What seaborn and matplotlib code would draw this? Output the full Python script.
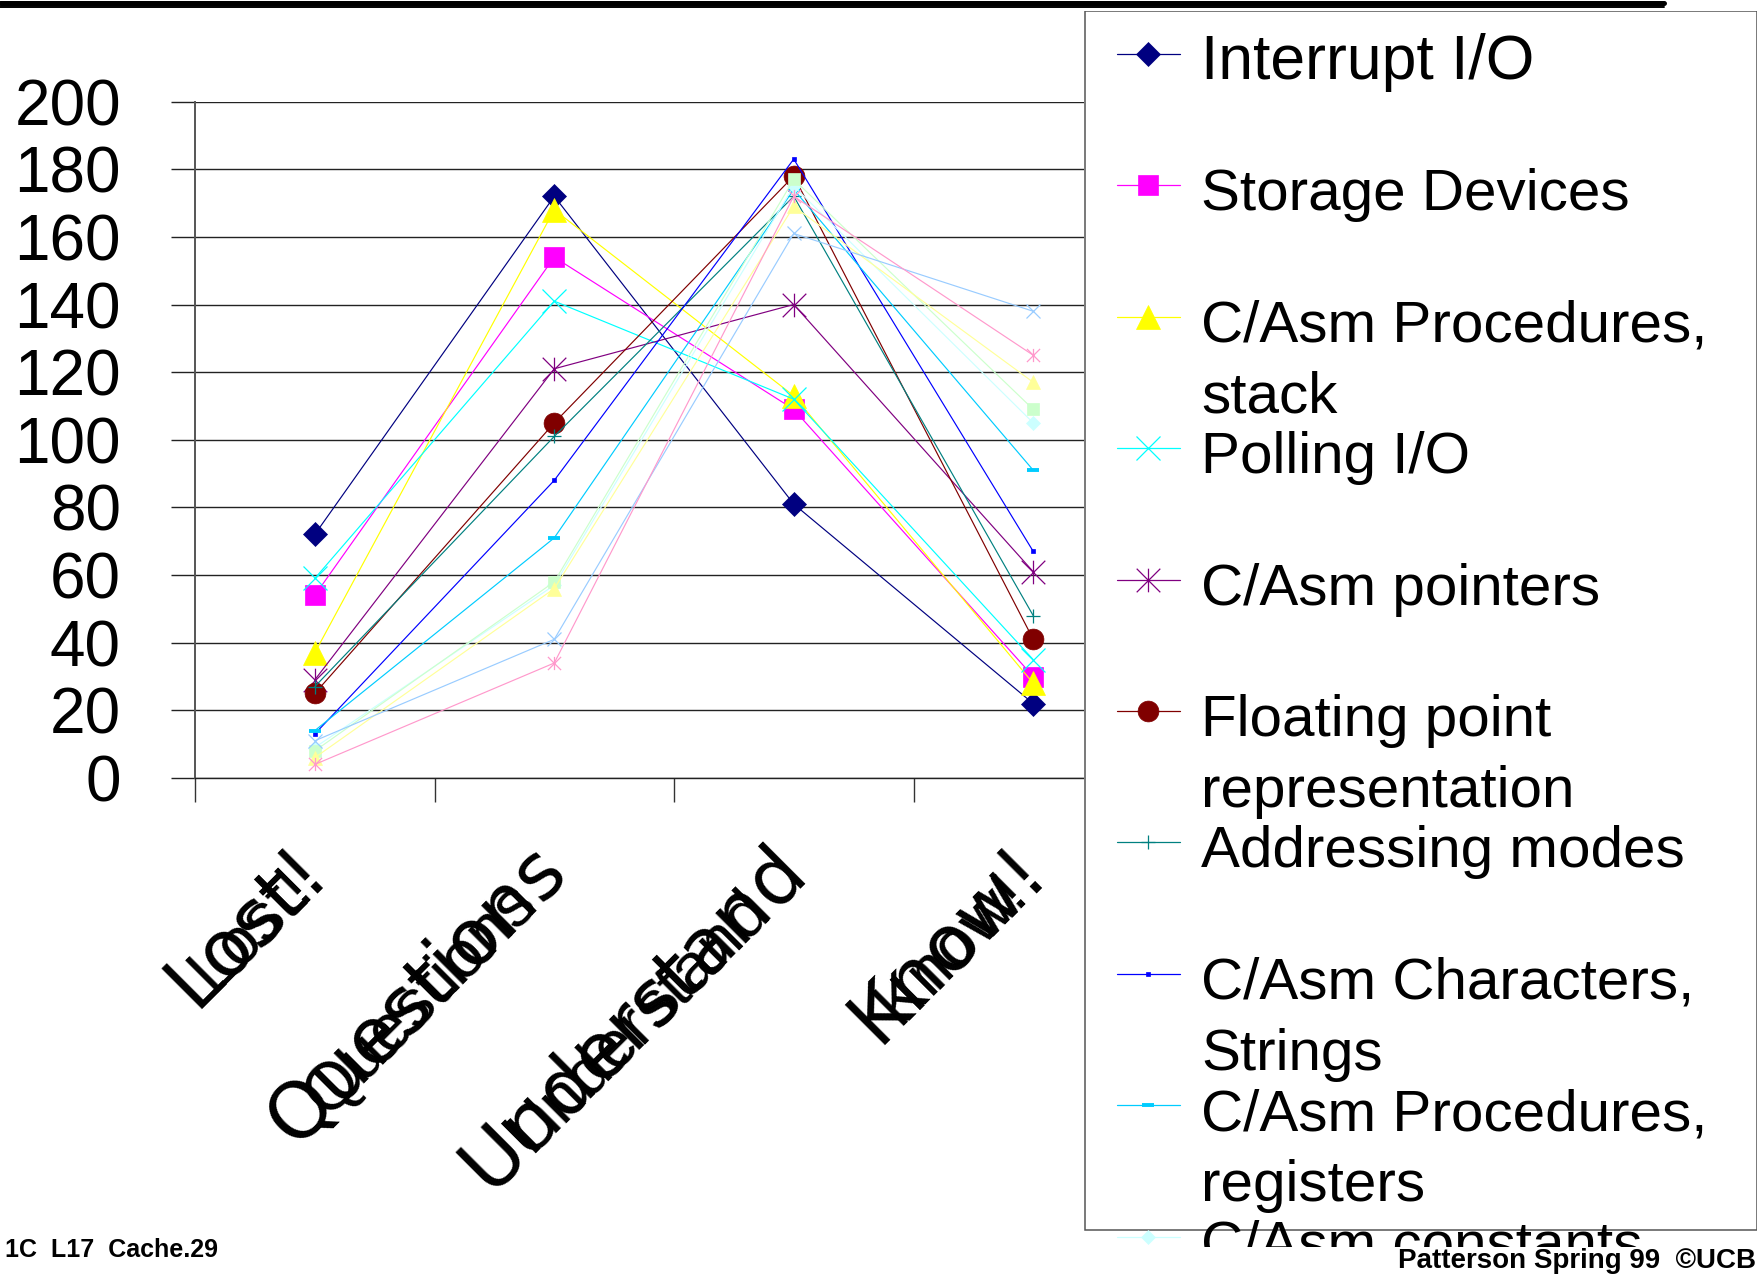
import numpy as np
import matplotlib
matplotlib.use("Agg")
import matplotlib.pyplot as plt
from matplotlib.path import Path
from matplotlib.lines import Line2D
from matplotlib.patches import Rectangle
from matplotlib.transforms import ScaledTranslation
from matplotlib.font_manager import FontProperties
from matplotlib import font_manager
import seaborn as sns

# ---------------------------------------------------------------- data
categories = ["Lost!", "Questions", "Understand", "Know!"]

interrupt_io = [72, 172, 81, 22]
storage_devices = [54, 154, 109, 30]
procedures_stack = [37, 168, 113, 28]
polling_io = [59, 141, 112, 35]
pointers = [29, 121, 140, 61]
floating_point = [25, 105, 178, 41]
addressing_modes = [27, 101, 172, 48]
characters_strings = [13, 88, 183, 67]
procedures_registers = [14, 71, 174, 91]
constants = [9, 57, 175, 105]
topic_11 = [8, 58, 177, 109]
topic_12 = [6, 56, 169, 117]
topic_13 = [11, 41, 161, 138]
topic_14 = [4, 34, 172, 125]

legend_labels = [
    "Interrupt I/O",
    "Storage Devices",
    "C/Asm Procedures,\nstack",
    "Polling I/O",
    "C/Asm pointers",
    "Floating point\nrepresentation",
    "Addressing modes",
    "C/Asm Characters,\nStrings",
    "C/Asm Procedures,\nregisters",
    "C/Asm constants",
]

y_ticks = list(range(0, 201, 20))

series_values = [interrupt_io, storage_devices, procedures_stack, polling_io,
                 pointers, floating_point, addressing_modes, characters_strings,
                 procedures_registers, constants, topic_11, topic_12, topic_13,
                 topic_14]

# ---------------------------------------------------------------- styles
STAR = Path([(-1, -1), (1, 1), (-1, 1), (1, -1), (0, -1), (0, 1)],
            [Path.MOVETO, Path.LINETO, Path.MOVETO, Path.LINETO,
             Path.MOVETO, Path.LINETO])

# colour, marker, marker size (pt), marker edge width (pt)
styles = [
    ("#000080", "D", 12, 0.5),
    ("#FF00FF", "s", 14, 0.5),
    ("#FFFF00", "^", 17, 0.5),
    ("#00FFFF", "x", 17, 0.9),
    ("#800080", STAR, 17, 0.9),
    ("#800000", "o", 15, 0.5),
    ("#008080", "+", 10, 0.9),
    ("#0000FF", "s", 2.5, 0.5),
    ("#00CCFF", "_", 8.5, 2.8),
    ("#CCFFFF", "D", 7, 0.5),
    ("#CCFFCC", "s", 8, 0.5),
    ("#FFFF99", "^", 9.5, 0.5),
    ("#99CCFF", "x", 10, 0.9),
    ("#FF99CC", STAR, 9.5, 0.9),
]

sns.set_style("white")
_installed = {f.name for f in font_manager.fontManager.ttflist}
NARROW = "Liberation Sans Narrow" if "Liberation Sans Narrow" in _installed else "Liberation Sans"
LEGEND_SIZE = 46 if NARROW != "Liberation Sans" else 42
plt.rcParams["font.family"] = ["Liberation Sans", "DejaVu Sans"]
for key in ("text.color", "xtick.color", "ytick.color", "axes.labelcolor"):
    plt.rcParams[key] = "black"

W, H = 1762, 1274
fig = plt.figure(figsize=(W / 100, H / 100), dpi=100)
fig.patch.set_facecolor("white")
renderer = fig.canvas.get_renderer()

# ---------------------------------------------------------------- main chart
ax = fig.add_axes([195 / W, 1 - 778 / H, (1153 - 195) / W, (778 - 101.6) / H])
ax.set_facecolor("white")
positions = np.arange(len(categories))

for vals, (col, mk, ms, mew) in zip(series_values, styles):
    sns.lineplot(x=positions, y=vals, ax=ax, color=col, linewidth=0.85,
                 marker=mk, markersize=ms, markeredgewidth=mew,
                 markerfacecolor=col, markeredgecolor=col,
                 legend=False, clip_on=False)

ax.set_xlim(-0.5, 3.5)
ax.set_ylim(0, 200)
ax.set_yticks(y_ticks)
ax.set_yticklabels([str(v) for v in y_ticks], fontsize=46, family=NARROW)
ax.set_xticks([-0.5, 0.5, 1.5, 2.5, 3.5])
ax.set_xticklabels([])
ax.tick_params(axis="y", direction="out", length=17.3, width=1.0,
               color="#222222", pad=36, left=True)
ax.tick_params(axis="x", direction="out", length=17.3, width=1.0,
               color="#333333", bottom=True)
ax.yaxis.grid(True, color="#222222", linewidth=1.0)
ax.xaxis.grid(False)
for side in ("top", "right"):
    ax.spines[side].set_visible(False)
ax.spines["left"].set_color("#555555")
ax.spines["left"].set_linewidth(1.4)
ax.spines["bottom"].set_color("#222222")
ax.spines["bottom"].set_linewidth(1.0)

# rotated category names: a wide copy ending under the category, and a
# tighter copy centred on it
wide_fp = FontProperties(family="DejaVu Sans", size=56)
for i, cat in enumerate(categories):
    t1 = ax.transData + ScaledTranslation(0.0, -0.80, fig.dpi_scale_trans)
    ax.text(i, 0, cat, transform=t1, rotation=45, rotation_mode="anchor",
            ha="right", va="center", fontproperties=wide_fp, clip_on=False)
    w_px, _, _ = renderer.get_text_width_height_descent(cat, wide_fp, ismath=False)
    half = w_px / 2 / np.sqrt(2) / 100.0
    t2 = ax.transData + ScaledTranslation(-half + 0.04, -0.80 - half - 0.04,
                                          fig.dpi_scale_trans)
    ax.text(i, 0, cat, transform=t2, rotation=45, rotation_mode="anchor",
            ha="center", va="center", fontsize=48, family="Liberation Sans",
            clip_on=False)

# ---------------------------------------------------------------- legend panel
lax = fig.add_axes([1084 / W, 1 - 1247 / H, (1757 - 1084) / W, (1247 - 11) / H])
lax.set_zorder(5)
lax.set_facecolor("white")
lax.set_xlim(1084, 1757)
lax.set_ylim(1247, 11)
lax.set_xticks([])
lax.set_yticks([])
for sp in lax.spines.values():
    sp.set_visible(False)
lax.add_patch(Rectangle((1084.5, 11), 672, 1219, fill=False,
                        edgecolor="#555555", linewidth=1.1))

for i, label in enumerate(legend_labels):
    col, mk, ms, mew = styles[i]
    y = 54 + 131.4 * i
    lax.plot([1117, 1180], [y, y], color=col, linewidth=0.9)
    lax.plot([1148], [y], linestyle="none", marker=mk, markersize=ms,
             markeredgewidth=mew, markerfacecolor=col, markeredgecolor=col)
    if i == 0:
        fam, size = "Liberation Sans", 45
    else:
        fam, size = NARROW, LEGEND_SIZE
    for k, line in enumerate(label.split("\n")):
        lax.text(1201, y + 25 + 71 * k, line, ha="left", va="baseline",
                 fontsize=size, family=fam, clip_on=False)

# ---------------------------------------------------------------- slide furniture
fig.add_artist(Line2D([0, 1664 / W], [1 - 2.5 / H] * 2, color="black",
                      linewidth=3.6, transform=fig.transFigure))
fig.add_artist(Line2D([0, 1664 / W], [1 - 7.3 / H] * 2, color="black",
                      linewidth=1.4, transform=fig.transFigure))
fig.add_artist(Rectangle((0, 0), 1, 27 / H, transform=fig.transFigure,
                         facecolor="white", edgecolor="none", zorder=10))
fig.text(218 / W, 1 - 1257 / H, "1C  L17  Cache.29", ha="right", va="baseline",
         fontsize=18, fontweight="bold", family="Liberation Sans", zorder=11)
fig.text(1756 / W, 1 - 1268 / H, "Patterson Spring 99  \u00a9UCB", ha="right",
         va="baseline", fontsize=20, fontweight="bold", family="Liberation Sans",
         zorder=11)

fig.savefig("out.png", dpi=100, facecolor="white")
